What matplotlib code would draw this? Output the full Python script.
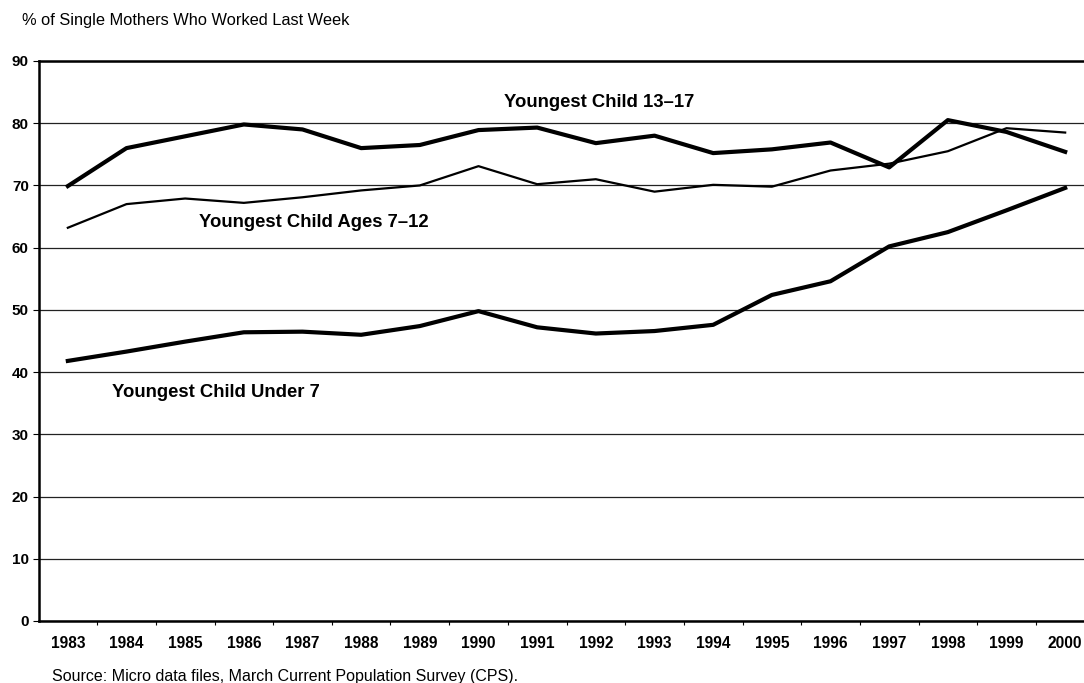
import numpy as np
import matplotlib.pyplot as plt

plt.rcParams['font.family'] = ['Liberation Sans', 'DejaVu Sans']

years = [str(y) for y in range(1983, 2001)]
child_13_17 = [69.9, 76.0, 77.9, 79.8, 79.0, 76.0, 76.5, 78.9, 79.3, 76.8,
               78.0, 75.2, 75.8, 76.9, 72.9, 80.5, 78.6, 75.4]
child_7_12 = [63.2, 67.0, 67.9, 67.2, 68.1, 69.2, 70.0, 73.1, 70.2, 71.0,
              69.0, 70.1, 69.8, 72.4, 73.5, 75.5, 79.2, 78.5]
child_under_7 = [41.8, 43.3, 44.9, 46.4, 46.5, 46.0, 47.4, 49.8, 47.2, 46.2,
                 46.6, 47.6, 52.4, 54.6, 60.2, 62.5, 66.0, 69.6]
y_ticks = [0, 10, 20, 30, 40, 50, 60, 70, 80, 90]

fig = plt.figure(figsize=(10.84, 6.83), dpi=100)
# the plot area runs past the right edge of the picture, as in the original
ax = fig.add_axes([38.5 / 1084, 62 / 683, 1056 / 1084, 560 / 683])

x = np.arange(len(years))
ax.plot(x, child_13_17, color='black', lw=3.0)
ax.plot(x, child_7_12, color='black', lw=1.6)
ax.plot(x, child_under_7, color='black', lw=3.0)

ax.set_xlim(-0.5, len(years) - 0.5)
ax.set_ylim(0, 90)
ax.set_yticks(y_ticks)
ax.set_yticklabels([str(v) for v in y_ticks], fontsize=11, fontweight='bold')
ax.yaxis.grid(True, color='#222222', lw=0.9)
ax.set_axisbelow(True)

ax.set_xticks(x)
ax.set_xticklabels(years, fontsize=11.2, fontweight='bold')
ax.set_xticks(np.arange(len(years)) + 0.5, minor=True)
ax.tick_params(axis='x', which='major', length=0, pad=11)
ax.tick_params(axis='x', which='minor', length=3, direction='out', width=0.8)
ax.tick_params(axis='y', length=4, width=0.8, pad=3)

for side in ['top', 'left', 'bottom']:
    ax.spines[side].set_linewidth(1.8)
ax.spines['right'].set_visible(False)

ax.text(9.05, 83.3, 'Youngest Child 13\u201317', fontsize=13.3, fontweight='bold',
        ha='center', va='center')
ax.text(4.2, 64.0, 'Youngest Child Ages 7\u201312', fontsize=13.3, fontweight='bold',
        ha='center', va='center')
ax.text(2.53, 36.7, 'Youngest Child Under 7', fontsize=13.3, fontweight='bold',
        ha='center', va='center')

fig.text(22 / 1084, 1 - 21 / 683, '% of Single Mothers Who Worked Last Week',
         fontsize=11.8, ha='left', va='center')
fig.text(52 / 1084, 1 - 676 / 683,
         'Source: Micro data files, March Current Population Survey (CPS).',
         fontsize=11.5, ha='left', va='center')

fig.savefig('out.png', dpi=100)
